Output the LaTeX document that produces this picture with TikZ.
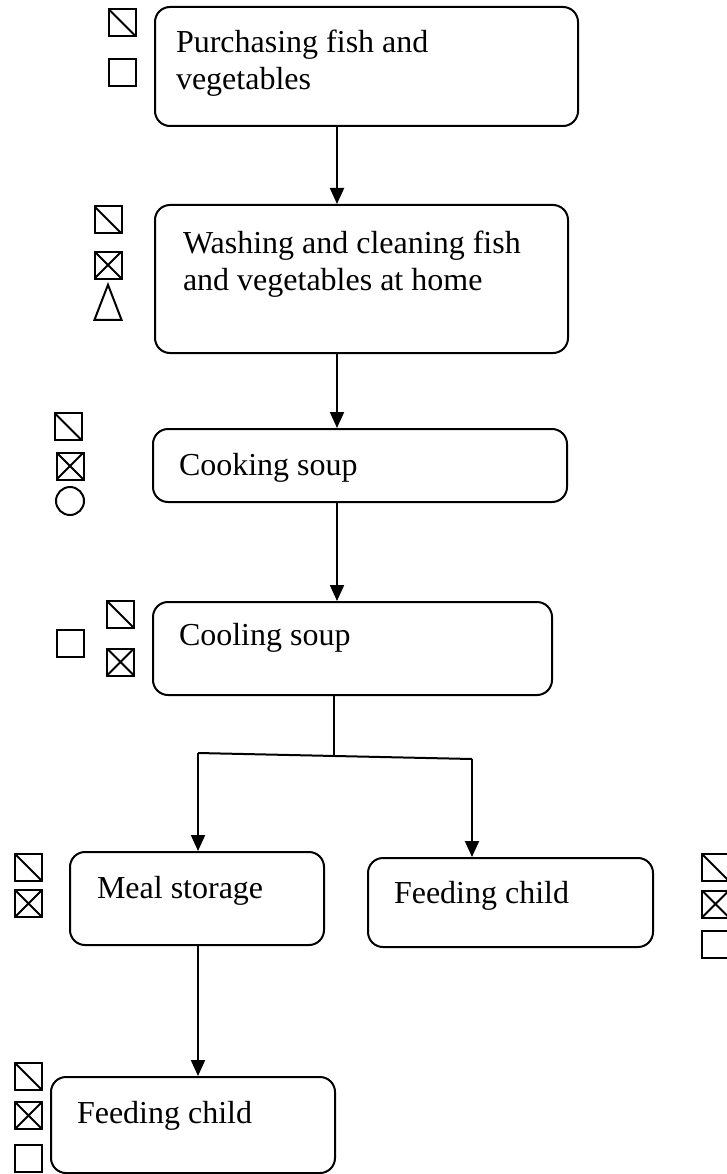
\documentclass[tikz,border=0pt]{standalone}
\usepackage{fontspec}
\setmainfont{Liberation Serif}
\usetikzlibrary{arrows.meta,shapes.geometric}

\begin{document}
\begin{tikzpicture}[x=1pt,y=-1pt,
        line width=2pt,
        box/.style={draw,rounded corners=15pt,inner sep=0pt},
        txt/.style={anchor=base west,align=left,inner sep=0pt,font=\fontsize{32}{37}\selectfont},
        arr/.style={-{Triangle[length=16pt,width=14pt]}},
        sq/.style={draw,minimum size=27pt,inner sep=0pt,line width=2pt},
        sqd/.style={sq,path picture={\draw[line width=2pt] (path picture bounding box.north west) -- (path picture bounding box.south east);}},
        sqx/.style={sq,path picture={\draw[line width=2pt] (path picture bounding box.north west) -- (path picture bounding box.south east)
            (path picture bounding box.south west) -- (path picture bounding box.north east);}},
        rnd/.style={draw,circle,minimum size=28pt,inner sep=0pt,line width=2pt},
        tri/.style={draw,isosceles triangle,isosceles triangle stretches,shape border rotate=90,
            minimum height=35pt,minimum width=27pt,inner sep=0pt,line width=2pt}]

    \useasboundingbox (0,0) rectangle (727,1174);

    % steps
    \node[box,minimum width=423pt,minimum height=119pt] (purch) at (366.5,66.5) {};
    \node[box,minimum width=413pt,minimum height=148pt] (wash) at (361.5,279) {};
    \node[box,minimum width=414pt,minimum height=73pt] (cook) at (360,465.5) {};
    \node[box,minimum width=399pt,minimum height=93pt] (cool) at (352.5,648.5) {};
    \node[box,minimum width=254pt,minimum height=93pt] (store) at (197,898.5) {};
    \node[box,minimum width=285pt,minimum height=89pt] (feedR) at (510.5,902.5) {};
    \node[box,minimum width=284pt,minimum height=96pt] (feedB) at (193,1125) {};

    \node[txt] (purchT) at (175,90) {Purchasing fish and\\vegetables};
    \node[txt] (washT) at (182,290) {Washing and cleaning fish\\and vegetables at home};
    \node[txt] (cookT) at (178,475) {Cooking soup};
    \node[txt] (coolT) at (178,645) {Cooling soup};
    \node[txt] (storeT) at (96,898) {Meal storage};
    \node[txt] (feedRT) at (393,903) {Feeding child};
    \node[txt] (feedBT) at (76,1123) {Feeding child};

    % symbols
    \node[sqd] (purchA) at (122.5,23) {};
    \node[sq]  (purchB) at (122.5,73) {};
    \node[sqd] (washA) at (108,220) {};
    \node[sqx] (washB) at (108,265) {};
    \node[tri] (washC) at (108,310.5) {};
    \node[sqd] (cookA) at (68,426.5) {};
    \node[sqx] (cookB) at (70,466) {};
    \node[rnd] (cookC) at (70,501) {};
    \node[sq]  (coolA) at (70,643) {};
    \node[sqd] (coolB) at (120.5,614.5) {};
    \node[sqx] (coolC) at (120.5,662) {};
    \node[sqd] (storeA) at (28.5,867.5) {};
    \node[sqx] (storeB) at (28.5,903.5) {};
    \node[sqd] (feedRA) at (715.5,867.5) {};
    \node[sqx] (feedRB) at (715.5,904) {};
    \node[sq]  (feedRC) at (715.5,944) {};
    \node[sqd] (feedBA) at (28.5,1076.5) {};
    \node[sqx] (feedBB) at (28.5,1115.5) {};
    \node[sq]  (feedBC) at (28.5,1158) {};

    % flow
    \coordinate (spine) at (337,0);
    \coordinate (jn) at (334,756);
    \coordinate (jl) at (198,753);
    \coordinate (jr) at (472,759);
    \draw[arr] (purch.south -| spine) -- (wash.north -| spine);
    \draw[arr] (wash.south -| spine) -- (cook.north -| spine);
    \draw[arr] (cook.south -| spine) -- (cool.north -| spine);
    \draw (cool.south -| jn) -- (jn);
    \draw (jl) -- (jr);
    \draw[arr] (jl) -- (store.north -| jl);
    \draw[arr] (jr) -- (feedR.north -| jr);
    \draw[arr] (store.south -| jl) -- (feedB.north -| jl);
\end{tikzpicture}
\end{document}
